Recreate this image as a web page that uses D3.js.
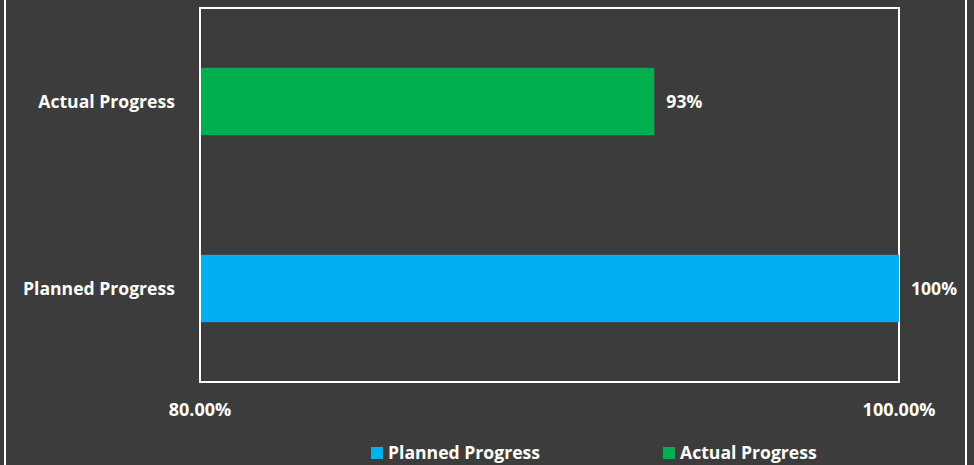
<!DOCTYPE html>
<html>
<head>
<meta charset="utf-8">
<script src="https://cdn.jsdelivr.net/npm/d3@7"></script>
<style>
  body { margin: 0; background: #3c3c3c; }
  text { font-family: "Open Sans", sans-serif; font-weight: bold; fill: #ffffff; }
</style>
</head>
<body>
<div id="chart"></div>
<script>
//data
var categories = ['Actual Progress', 'Planned Progress'];
var values = [0.93, 1.00];
var labels = ['93%', '100%'];
var tickValues = [0.80, 1.00];
var colors = ['#00b050', '#00b0f0'];
var legendOrder = ['Planned Progress', 'Actual Progress'];

//dims
var width = 974;
var height = 465;
var margin = { top: 8, right: 75, bottom: 83, left: 200 };
var fontSize = '17.6px';

var svg = d3.select('#chart')
    .append('svg')
    .attr('width', width)
    .attr('height', height);

svg.append('rect')
    .attr('width', width)
    .attr('height', height)
    .attr('fill', '#3c3c3c');

// outer frame
svg.append('rect')
    .attr('x', 5)
    .attr('y', -5)
    .attr('width', 961)
    .attr('height', height + 10)
    .attr('fill', 'none')
    .attr('stroke', '#ffffff')
    .attr('stroke-width', 2);

//scales
var x = d3.scaleLinear()
  .domain([0.80, 1.00])
  .range([margin.left, width - margin.right]);

var y = d3.scaleBand()
  .domain(categories)
  .range([margin.top, height - margin.bottom])
  .paddingInner(0.64)
  .paddingOuter(0.32);

var color = d3.scaleOrdinal().domain(categories).range(colors);

//plot frame
svg.append('rect')
    .attr('x', x(0.80))
    .attr('y', margin.top)
    .attr('width', x(1.00) - x(0.80))
    .attr('height', height - margin.bottom - margin.top)
    .attr('fill', 'none')
    .attr('stroke', '#ffffff')
    .attr('stroke-width', 2);

//bars
svg.selectAll('rect.bar')
  .data(categories)
  .enter()
  .append('rect')
  .attr('class', 'bar')
  .attr('x', x(0.80) + 1)
  .attr('y', function(d) { return y(d); })
  .attr('width', function(d, i) { return x(values[i]) - x(0.80) - 1; })
  .attr('height', y.bandwidth())
  .attr('fill', function(d) { return color(d); });

//value labels
svg.selectAll('text.val')
  .data(categories)
  .enter()
  .append('text')
  .attr('class', 'val')
  .attr('x', function(d, i) { return x(values[i]) + 12; })
  .attr('y', function(d) { return y(d) + y.bandwidth() / 2; })
  .attr('dy', '0.35em')
  .style('font-size', fontSize)
  .text(function(d, i) { return labels[i]; });

//category labels
svg.selectAll('text.cat')
  .data(categories)
  .enter()
  .append('text')
  .attr('class', 'cat')
  .attr('x', x(0.80) - 25)
  .attr('y', function(d) { return y(d) + y.bandwidth() / 2; })
  .attr('dy', '0.35em')
  .attr('text-anchor', 'end')
  .style('font-size', fontSize)
  .text(function(d) { return d; });

//x ticks
svg.selectAll('text.tick')
  .data(tickValues)
  .enter()
  .append('text')
  .attr('class', 'tick')
  .attr('x', function(d) { return x(d); })
  .attr('y', 410)
  .attr('dy', '0.35em')
  .attr('text-anchor', 'middle')
  .style('font-size', '18px')
  .text(function(d) { return d3.format('.2%')(d); });

//legend
var legendX = [371, 663];
var legend = svg.selectAll('g.legend')
  .data(legendOrder)
  .enter()
  .append('g')
  .attr('class', 'legend')
  .attr('transform', function(d, i) { return 'translate(' + legendX[i] + ',453)'; });

legend.append('rect')
  .attr('x', 0)
  .attr('y', -6)
  .attr('width', 12)
  .attr('height', 12)
  .attr('fill', function(d) { return color(d); });

legend.append('text')
  .attr('x', 17)
  .attr('y', 0)
  .attr('dy', '0.35em')
  .style('font-size', fontSize)
  .text(function(d) { return d; });
</script>
</body>
</html>
